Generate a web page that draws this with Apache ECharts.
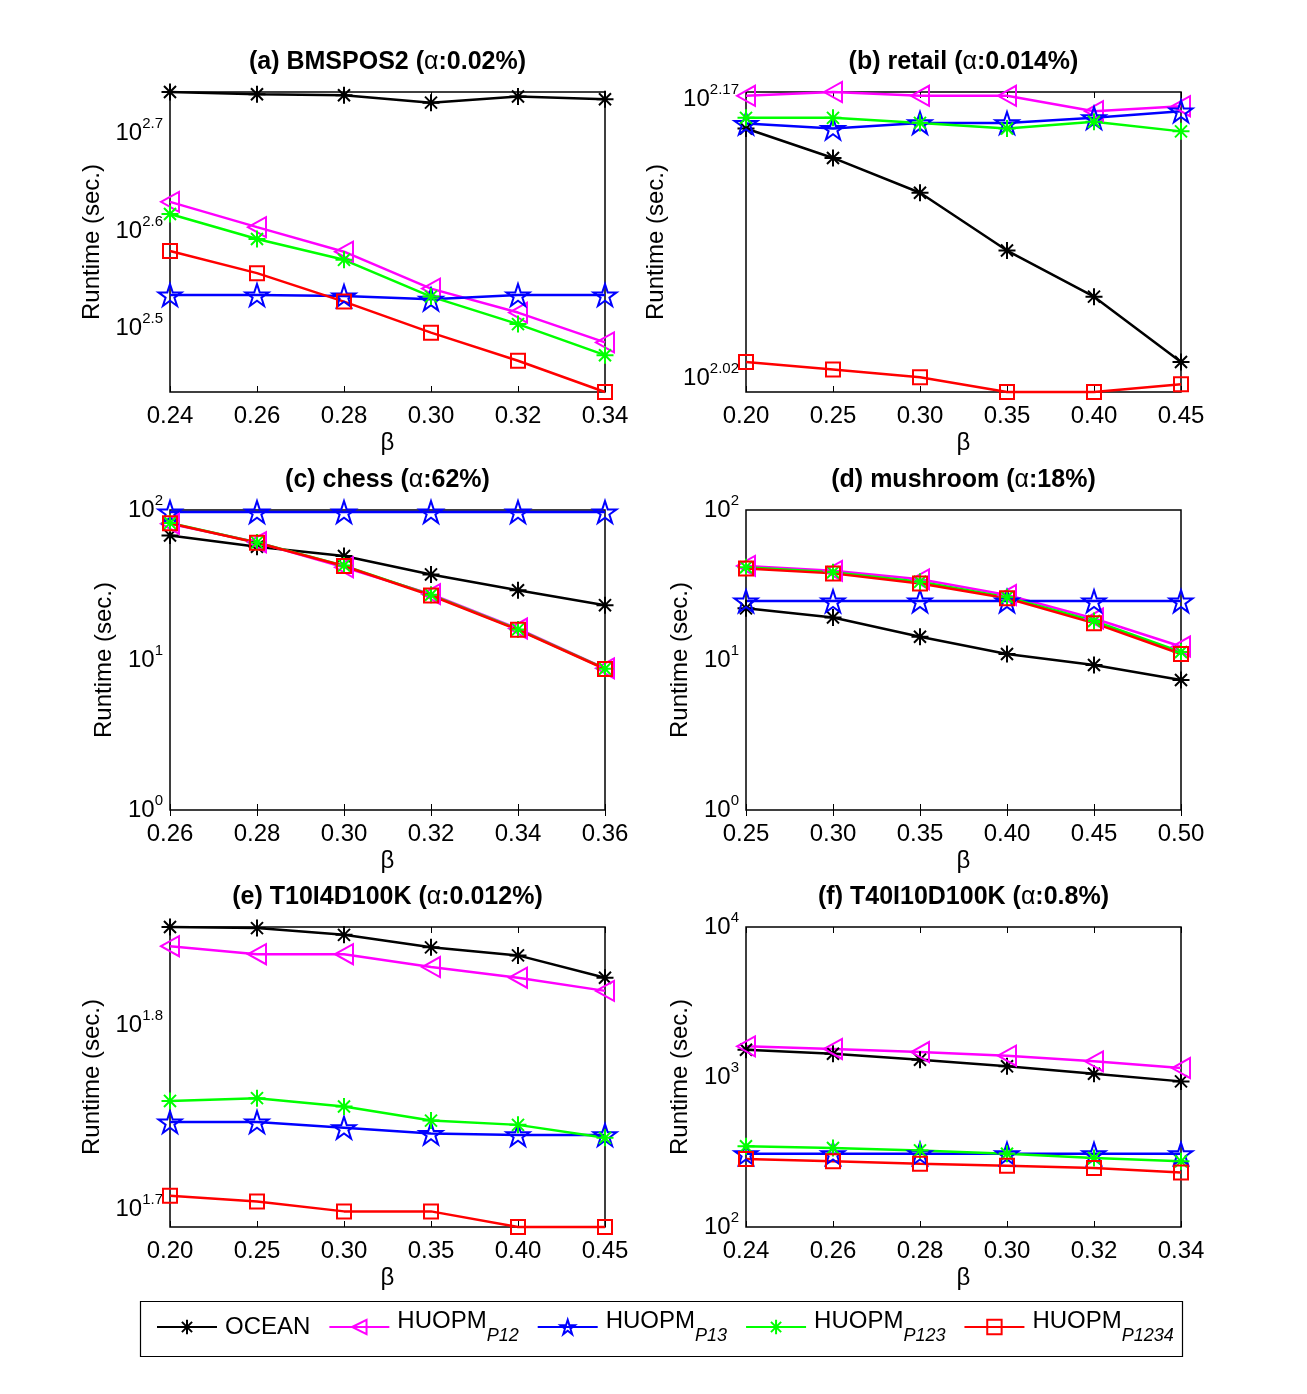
<!DOCTYPE html>
<html>
<head>
<meta charset="utf-8">
<title>Runtime vs beta</title>
<script src="https://cdn.jsdelivr.net/npm/echarts@6/dist/echarts.min.js"></script>
<style>
  html, body { margin: 0; padding: 0; background: #fff; }
  #chart { width: 1307px; height: 1394px; }
</style>
</head>
<body>
<div id="chart"></div>
<script>
// β values (x axis) of each panel
const betaA = ['0.24', '0.26', '0.28', '0.30', '0.32', '0.34']
const betaB = ['0.20', '0.25', '0.30', '0.35', '0.40', '0.45']
const betaC = ['0.26', '0.28', '0.30', '0.32', '0.34', '0.36']
const betaD = ['0.25', '0.30', '0.35', '0.40', '0.45', '0.50']
const betaE = ['0.20', '0.25', '0.30', '0.35', '0.40', '0.45']
const betaF = ['0.24', '0.26', '0.28', '0.30', '0.32', '0.34']

// runtime in seconds
// (a) BMSPOS2
const oceanA = [552.6, 549.6, 548.3, 538.9, 546.7, 543.2]
const p12A = [426.5, 401.8, 379.2, 347.6, 328.5, 306.2]
const p13A = [342.4, 342.4, 341.6, 338.9, 342.4, 342.4]
const p123A = [414.5, 390.7, 372.0, 341.1, 319.7, 297.1]
const p1234A = [379.9, 360.5, 337.1, 313.3, 293.2, 272.4]
// (b) retail
const oceanB = [142.7, 137.6, 131.8, 122.7, 115.9, 106.9]
const p12B = [148.6, 149.3, 148.6, 148.6, 145.8, 146.7]
const p13B = [143.6, 142.7, 143.7, 143.7, 144.6, 145.8]
const p123B = [144.6, 144.6, 143.7, 142.7, 143.9, 142.2]
const p1234B = [106.9, 105.9, 104.9, 103.0, 103.0, 104.0]
// (c) chess
const oceanC = [67.7, 56.9, 49.3, 37.2, 29.2, 23.2]
const p12C = [81.0, 61.0, 41.5, 27.5, 16.2, 8.8]
const p13C = [97, 97, 97, 97, 97, 97]
const p123C = [81.8, 60.8, 42.6, 27.2, 16.0, 8.75]
const p1234C = [81.5, 60.5, 42.3, 26.9, 15.9, 8.71]
// (d) mushroom
const oceanD = [22.1, 19.2, 14.3, 10.96, 9.26, 7.36]
const p12D = [42.4, 39.3, 34.5, 27.1, 18.9, 12.3]
const p13D = [24.7, 24.7, 24.7, 24.7, 24.7, 24.7]
const p123D = [41.5, 38.5, 33.2, 26.2, 18.2, 11.3]
const p1234D = [40.8, 37.8, 32.4, 25.8, 17.6, 10.96]
// (e) T10I4D100K
const oceanE = [71.4, 71.3, 70.7, 69.6, 68.9, 67.0]
const p12E = [69.7, 69.0, 69.0, 67.9, 67.0, 65.9]
const p13E = [55.9, 55.9, 55.5, 55.1, 55.0, 55.0]
const p123E = [57.4, 57.6, 57.0, 56.0, 55.7, 54.8]
const p1234E = [50.96, 50.6, 49.97, 49.97, 49.0, 49.0]
// (f) T40I10D100K
const oceanF = [1521, 1430, 1305, 1178, 1052, 935]
const p12F = [1601, 1537, 1467, 1387, 1272, 1148]
const p13F = [308, 308, 308, 308, 308, 308]
const p123F = [345, 336, 324, 308, 288, 274]
const p1234F = [284, 274, 264, 256, 247, 231]

// y tick labels, as powers of ten
const ticksA = [2.5, 2.6, 2.7]
const ticksB = [2.02, 2.17]
const ticksC = [0, 1, 2]
const ticksD = [0, 1, 2]
const ticksE = [1.7, 1.8]
const ticksF = [2, 3, 4]

const seriesNames = ['OCEAN', 'HUOPM_P12', 'HUOPM_P13', 'HUOPM_P123', 'HUOPM_P1234']

const FONT = "'Liberation Sans', Arial, Helvetica, sans-serif"
const ASTERISK = 'path://M0,-10L0,10M-10,0L10,0M-7.07,-7.07L7.07,7.07M-7.07,7.07L7.07,-7.07'
const TRI_LEFT = 'path://M-9,0L9,-10L9,10Z'
const STAR = 'path://M0,-10L2.245,-3.09L9.511,-3.09L3.633,1.18L5.878,8.09L0,3.82L-5.878,8.09L-3.633,1.18L-9.511,-3.09L-2.245,-3.09Z'

const styles = [
  { color: '#000000', symbol: ASTERISK, size: 17 },
  { color: '#ff00ff', symbol: TRI_LEFT, size: 20 },
  { color: '#0000ff', symbol: STAR, size: 23 },
  { color: '#00ff00', symbol: ASTERISK, size: 17 },
  { color: '#ff0000', symbol: 'rect', size: 14 }
]

// panel layout; y range is in log10 units ('tight' = data extent)
const panels = [
  { title: '(a) BMSPOS2 (', alpha: ':0.02%)', beta: betaA, data: [oceanA, p12A, p13A, p123A, p1234A], ticks: ticksA, range: 'tight', minor: false, left: 170, top: 92, nameGap: 66 },
  { title: '(b) retail (', alpha: ':0.014%)', beta: betaB, data: [oceanB, p12B, p13B, p123B, p1234B], ticks: ticksB, range: 'tight', minor: false, left: 746, top: 92, nameGap: 78 },
  { title: '(c) chess (', alpha: ':62%)', beta: betaC, data: [oceanC, p12C, p13C, p123C, p1234C], ticks: ticksC, range: [0, 2], minor: true, left: 170, top: 510, nameGap: 54 },
  { title: '(d) mushroom (', alpha: ':18%)', beta: betaD, data: [oceanD, p12D, p13D, p123D, p1234D], ticks: ticksD, range: [0, 2], minor: true, left: 746, top: 510, nameGap: 54 },
  { title: '(e) T10I4D100K (', alpha: ':0.012%)', beta: betaE, data: [oceanE, p12E, p13E, p123E, p1234E], ticks: ticksE, range: 'tight', minor: false, left: 170, top: 927, nameGap: 66 },
  { title: '(f) T40I10D100K (', alpha: ':0.8%)', beta: betaF, data: [oceanF, p12F, p13F, p123F, p1234F], ticks: ticksF, range: [2, 4], minor: true, left: 746, top: 927, nameGap: 54 }
]
const W = 435, H = 300

const grids = [], xAxes = [], yAxes = [], series = [], titles = []

const supLabel = {
  formatter: v => '{b|10}{s|' + v + '}',
  rich: {
    b: { fontSize: 24, lineHeight: 34, fontFamily: FONT, color: '#000' },
    s: { fontSize: 15, verticalAlign: 'top', fontFamily: FONT, color: '#000' }
  }
}

panels.forEach((p, i) => {
  grids.push({ left: p.left, top: p.top, width: W, height: H, show: true, borderColor: '#000', borderWidth: 1.5, backgroundColor: '#fff' })

  titles.push({
    text: '{b|' + p.title + '}{n|α}{b|' + p.alpha + '}',
    left: p.left + W / 2, top: p.top - 42, textAlign: 'center', padding: 0,
    textStyle: {
      rich: {
        b: { fontSize: 25, fontWeight: 'bold', fontFamily: FONT, color: '#000' },
        n: { fontSize: 25, fontWeight: 'normal', fontFamily: FONT, color: '#000' }
      }
    }
  })

  const xi = xAxes.length
  xAxes.push({
    type: 'category', gridIndex: i, data: p.beta, boundaryGap: false,
    axisLine: { show: false },
    axisTick: { inside: true, length: 6, lineStyle: { color: '#000' } },
    axisLabel: { interval: 0, fontSize: 24, color: '#000', fontFamily: FONT, margin: 12 },
    name: 'β', nameLocation: 'middle', nameGap: 39,
    nameTextStyle: { fontSize: 24, color: '#000', fontFamily: FONT }
  })
  xAxes.push({
    type: 'category', gridIndex: i, data: p.beta, boundaryGap: false, position: 'top',
    axisLine: { show: false },
    axisTick: { inside: true, length: 6, lineStyle: { color: '#000' } },
    axisLabel: { show: false }
  })

  const logs = p.data.map(arr => arr.map(v => Math.log10(v)))
  let lo, hi
  if (p.range === 'tight') {
    const all = [].concat(...logs)
    lo = Math.min(...all)
    hi = Math.max(...all)
  } else {
    lo = p.range[0]
    hi = p.range[1]
  }

  const yi = yAxes.length
  yAxes.push({
    type: 'value', gridIndex: i, min: lo, max: hi,
    axisLine: { show: false }, splitLine: { show: false },
    axisTick: { inside: true, length: 6, customValues: p.ticks, lineStyle: { color: '#000' } },
    axisLabel: Object.assign({ customValues: p.ticks, margin: 7 }, supLabel),
    name: 'Runtime (sec.)', nameLocation: 'middle', nameGap: p.nameGap,
    nameTextStyle: { fontSize: 24, color: '#000', fontFamily: FONT }
  })
  yAxes.push({
    type: 'value', gridIndex: i, min: lo, max: hi, position: 'right',
    axisLine: { show: false }, splitLine: { show: false },
    axisTick: { inside: true, length: 6, customValues: p.ticks, lineStyle: { color: '#000' } },
    axisLabel: { show: false }
  })
  if (p.minor) {
    const minors = []
    for (let e = lo; e < hi; e++) {
      for (let k = 2; k <= 9; k++) minors.push(e + Math.log10(k))
    }
    ;['left', 'right'].forEach(pos => {
      yAxes.push({
        type: 'value', gridIndex: i, min: lo, max: hi, position: pos,
        axisLine: { show: false }, splitLine: { show: false },
        axisTick: { inside: true, length: 4, customValues: minors, lineStyle: { color: '#000' } },
        axisLabel: { show: false }
      })
    })
  }

  logs.forEach((vals, k) => {
    const s = styles[k]
    series.push({
      type: 'line', name: seriesNames[k], xAxisIndex: xi, yAxisIndex: yi,
      data: vals, symbol: s.symbol, symbolSize: s.size, symbolKeepAspect: true,
      showAllSymbol: true, clip: false, animation: false,
      lineStyle: { color: s.color, width: 2.5 },
      itemStyle: { color: 'rgba(0,0,0,0)', borderColor: s.color, borderWidth: 2 },
      emphasis: { disabled: true }
    })
  })
})

const chart = echarts.init(document.getElementById('chart'))
chart.setOption({
  backgroundColor: '#fff',
  animation: false,
  title: titles,
  grid: grids,
  xAxis: xAxes,
  yAxis: yAxes,
  series: series,
  legend: {
    data: seriesNames, top: 1304, left: 151,
    itemWidth: 60, itemHeight: 18, itemGap: 18, selectedMode: false,
    formatter: name => {
      const parts = name.split('_')
      return parts.length > 1 ? '{m|' + parts[0] + '}{s|' + parts[1] + '}' : '{m|' + name + '}'
    },
    textStyle: {
      rich: {
        m: { fontSize: 24, lineHeight: 24, verticalAlign: 'top', fontFamily: FONT, color: '#000', padding: [0, 0, 0, 3] },
        s: { fontSize: 18, fontStyle: 'italic', verticalAlign: 'bottom', padding: [18, 0, 0, 0], fontFamily: FONT, color: '#000' }
      }
    }
  },
  graphic: [{
    type: 'rect', left: 138, top: 1299, shape: { width: 1042, height: 55 },
    style: { fill: 'none', stroke: '#000', lineWidth: 1.2 }, silent: true
  }]
})
</script>
</body>
</html>
